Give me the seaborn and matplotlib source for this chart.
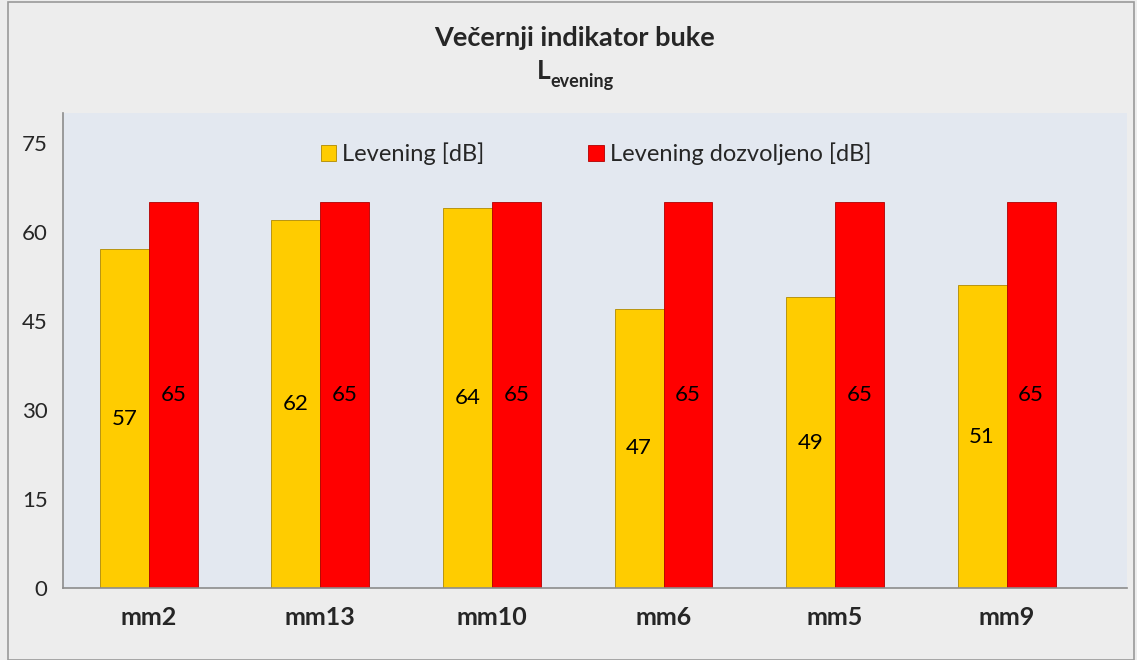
import pandas as pd
import matplotlib.pyplot as plt
import seaborn as sns
from matplotlib.patches import Rectangle

# Data
locations = ["mm2", "mm13", "mm10", "mm6", "mm5", "mm9"]
levening = [57, 62, 64, 47, 49, 51]
levening_allowed = [65, 65, 65, 65, 65, 65]
series_names = ["Levening [dB]", "Levening dozvoljeno [dB]"]
y_ticks = [0, 15, 30, 45, 60, 75]

df = pd.DataFrame({
    "location": locations * 2,
    "value": levening + levening_allowed,
    "series": [series_names[0]] * len(locations) + [series_names[1]] * len(locations),
})

sns.set_style("white")
plt.rcParams["font.family"] = ["Lato", "DejaVu Sans"]

fig = plt.figure(figsize=(11.37, 6.6), dpi=100)
fig.patch.set_facecolor("#ededed")
fig.patches.append(Rectangle((0.007, 0.0), 0.99, 0.997, transform=fig.transFigure,
                             fill=False, edgecolor="#9a9a9a", linewidth=1.2))
ax = fig.add_axes([0.0554, 0.109, 0.9356, 0.72])
ax.set_facecolor("#e3e8f0")

palette = {series_names[0]: "#ffcc00", series_names[1]: "#ff0000"}
sns.barplot(data=df, x="location", y="value", hue="series", palette=palette,
            width=0.571, gap=0, saturation=1, ax=ax, edgecolor="#b08a00", linewidth=0.6)
for patch in ax.patches:
    if patch.get_facecolor()[1] < 0.5:
        patch.set_edgecolor("#b00000")

for cont in ax.containers:
    ax.bar_label(cont, label_type="center", fontsize=16, color="black")

ax.set_xlim(-0.5, 5.7)
ax.set_ylim(0, 80)
ax.set_yticks(y_ticks)
ax.tick_params(axis="y", labelsize=16, length=0, pad=11)
ax.tick_params(axis="x", labelsize=18, length=0, pad=13)
for lbl in ax.get_xticklabels():
    lbl.set_fontweight("bold")
ax.set_xlabel("")
ax.set_ylabel("")
for side in ["top", "right"]:
    ax.spines[side].set_visible(False)
for side in ["left", "bottom"]:
    ax.spines[side].set_color("#8c8c8c")
    ax.spines[side].set_linewidth(1.2)

leg = ax.legend(loc="upper center", bbox_to_anchor=(0.501, 0.982), ncol=2, frameon=False,
                fontsize=17, handlelength=0.65, handleheight=0.65, handletextpad=0.25,
                columnspacing=4.4)

fig.text(0.505, 0.943, "Večernji indikator buke", ha="center", va="center",
         fontsize=19.5, fontweight="bold")
fig.text(0.484, 0.893, "L", ha="right", va="center", fontsize=19, fontweight="bold")
fig.text(0.484, 0.876, "evening", ha="left", va="center", fontsize=13, fontweight="bold")

fig.savefig("out.png", dpi=100, facecolor=fig.get_facecolor())
